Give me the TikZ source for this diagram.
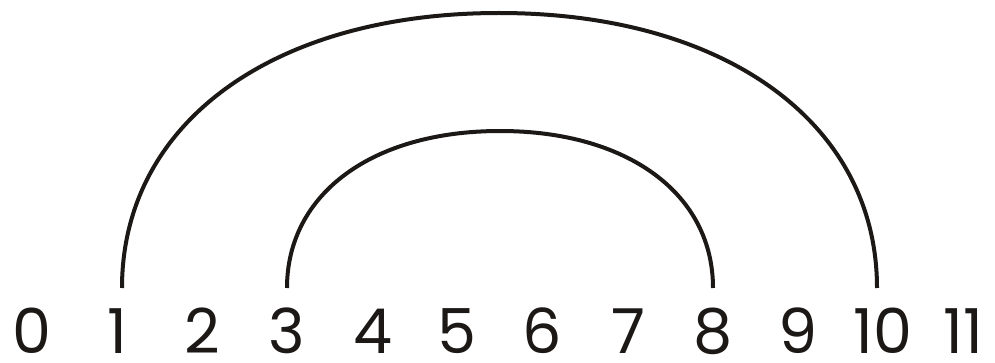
\documentclass[tikz,border=0pt]{standalone}
\usepackage{fontspec}
\setmainfont{Poppins}
\usetikzlibrary{positioning}
\definecolor{trazo}{RGB}{28,24,22}
\tikzset{
  cifra/.style={anchor=base, inner sep=0pt, text=trazo, text depth=0pt,
    font=\fontsize{62}{62}\selectfont},
  arco/.style={line width=4pt, color=trazo}
}
\begin{document}
\begin{tikzpicture}[x=1pt, y=1pt]
  \useasboundingbox (0,0) rectangle (995,362);
  \node[cifra] (n0) at (32,9) {0};
  \node[cifra] (n1) at (117,9) {1};
  \node[cifra] (n2) at (202,9) {2};
  \node[cifra] (n3) at (287,9) {3};
  \node[cifra] (n4) at (373,9) {4};
  \node[cifra] (n5) at (457,9) {5};
  \node[cifra] (n6) at (542,9) {6};
  \node[cifra] (n7) at (628,9) {7};
  \node[cifra] (n8) at (713,9) {8};
  \node[cifra] (n9) at (798,9) {9};
  \node[cifra] (n10) at (883,9) {10};
  \node[cifra] (n11) at (963,9) {11};
  \draw[arco] ([xshift=5pt, yshift=65pt]n1.base)
    .. controls +(0,165) and +(-226,0) .. ++(377,275)
    .. controls +(226,0) and +(0,165) .. ([xshift=-6pt, yshift=65pt]n10.base);
  \draw[arco] ([yshift=65pt]n3.base)
    .. controls +(0,94) and +(-128,0) .. ++(213,157)
    .. controls +(128,0) and +(0,94) .. ([yshift=65pt]n8.base);
\end{tikzpicture}
\end{document}
